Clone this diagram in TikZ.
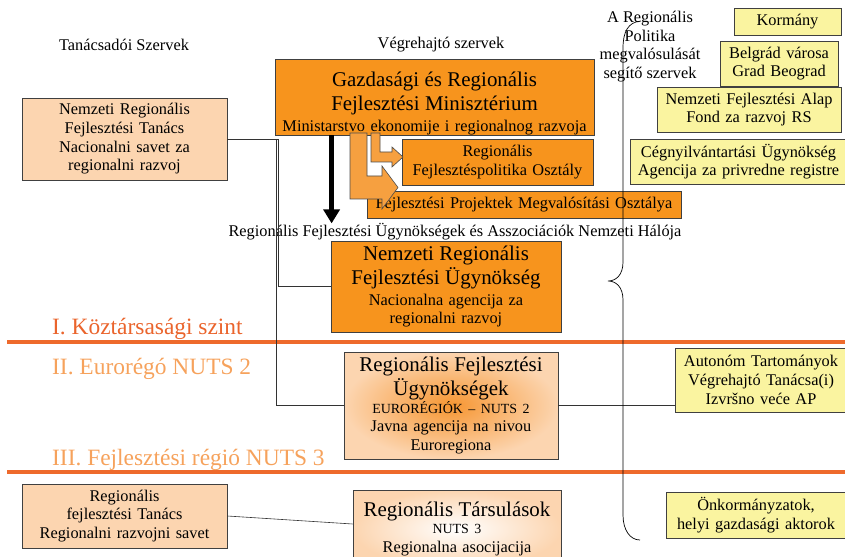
\documentclass[tikz,border=0pt]{standalone}
\usepackage{fontspec}
\setmainfont{Liberation Serif}
\usepackage{xcolor}
\usetikzlibrary{arrows.meta,calc,positioning}
\definecolor{ministryorange}{RGB}{247,148,29}
\definecolor{arroworange}{RGB}{246,160,64}
\definecolor{agencyorange}{RGB}{246,150,50}
\definecolor{peach}{RGB}{252,213,176}
\definecolor{paleyellow}{RGB}{250,244,160}
\definecolor{levelred}{RGB}{234,100,44}
\definecolor{levellight}{RGB}{246,162,92}
\definecolor{lineorange}{RGB}{238,106,44}
\newcommand{\leveltxt}{\fontsize{23.5}{26}\selectfont}
\newcommand{\bigtxt}{\fontsize{21}{24.5}\selectfont}
\newcommand{\smalltxt}{\fontsize{16.4}{18.7}\selectfont}
\newcommand{\tinytxt}{\fontsize{14}{16.5}\selectfont}

\begin{document}
\begin{tikzpicture}[x=1bp, y=-1bp,
		box/.style={draw=black!75, line width=0.8pt, align=center, inner sep=0pt, font=\smalltxt},
		orangebox/.style={box, fill=ministryorange},
		peachbox/.style={box, fill=peach},
		yellowbox/.style={box, fill=paleyellow},
		head/.style={font=\smalltxt, align=center, inner sep=0pt},
		level/.style={font=\leveltxt, anchor=base west, inner sep=0pt},
		link/.style={draw=black!80, line width=0.6pt},
		blockarrow/.style={fill=arroworange, draw=black!70, line width=0.6pt},
		levelline/.style={draw=lineorange, line width=4.5pt}]
		\useasboundingbox (0,0) rectangle (845,557);
		\draw [levelline] (7,342) -- (845,342);
		\draw [levelline] (7,472) -- (845,472);
		\node [head] (advisorhead) at (124,45) {Tanácsadói Szervek};
		\node [head] (executivehead) at (441,45) {Végrehajtó szervek};
		\node [head] (helperhead) at (650,46.5) {A Regionális\\Politika\\megvalósulását\\segítő szervek};
		\node [head] (networkhead) at (455,232) {Regionális Fejlesztési Ügynökségek és Asszociációk Nemzeti Hálója};
		\node [level, text=levelred] (levelone) at (52,335) {I. Köztársasági szint};
		\node [level, text=levellight] (leveltwo) at (52,374) {II. Eurorégó NUTS 2};
		\node [level, text=levellight] (levelthree) at (52,465) {III. Fejlesztési régió NUTS 3};
		\node [peachbox, text width=205bp, minimum height=82bp] (natcouncil) at (124.5,139) {Nemzeti Regionális\\Fejlesztési Tanács\\Nacionalni savet za\\regionalni razvoj};
		\node [orangebox, text width=319bp, minimum height=72bp] (ministry) at (434.5,97) {\vskip3bp\bigtxt Gazdasági és Regionális\\Fejlesztési Minisztérium\par\vskip2bp\smalltxt Ministarstvo ekonomije i regionalnog razvoja};
		\node [orangebox, text width=191bp, minimum height=46bp] (policydept) at (497.5,162) {Regionális\\Fejlesztéspolitika Osztály};
		\node [orangebox, text width=314bp, minimum height=27bp] (projectdept) at (524,204.5) {Fejlesztési Projektek Megvalósítási Osztálya};
		\node [orangebox, text width=230bp, minimum height=91bp] (natagency) at (446,286.5) {\bigtxt Nemzeti Regionális\\Fejlesztési Ügynökség\par\vskip2bp\smalltxt Nacionalna agencija za\\regionalni razvoj};
		\node [box, inner color=agencyorange, outer color=peach, text width=214bp, minimum height=107bp] (regagency) at (451,405.5) {\bigtxt Regionális Fejlesztési\\Ügynökségek\par\tinytxt EURORÉGIÓK – NUTS 2\par\smalltxt Javna agencija na nivou\\Euroregiona};
		\node [peachbox, text width=205bp, minimum height=64bp] (regcouncil) at (124.5,516) {Regionális\\fejlesztési Tanács\\Regionalni razvojni savet};
		\node [box, inner color=white, outer color=peach, text width=208bp, minimum height=78bp] (association) at (457,529) {\bigtxt Regionális Társulások\par\tinytxt NUTS 3\par\smalltxt Regionalna asocijacija};
		\node [yellowbox, text width=107bp, minimum height=27bp] (government) at (787.5,21.5) {Kormány};
		\node [yellowbox, text width=118bp, minimum height=45bp] (belgrade) at (779,63.5) {Belgrád városa\\Grad Beograd};
		\node [yellowbox, text width=184bp, minimum height=45bp] (devfund) at (749,109.5) {Nemzeti Fejlesztési Alap\\Fond za razvoj RS};
		\node [yellowbox, text width=217bp, minimum height=45bp] (registry) at (738.5,161.5) {Cégnyilvántartási Ügynökség\\Agencija za privredne registre};
		\node [yellowbox, text width=172bp, minimum height=64bp] (autonomy) at (761,380) {Autonóm Tartományok\\Végrehajtó Tanácsa(i)\\Izvršno veće AP};
		\node [yellowbox, text width=180bp, minimum height=46bp] (localgov) at (756,515) {Önkormányzatok,\\helyi gazdasági aktorok};
		\draw [blockarrow] (350,133) -- (367,133) -- (367,176) -- (382,176) -- (382,166) -- (398,187.5) -- (382,209) -- (382,199) -- (350,199) -- cycle;
		\draw [blockarrow] (371,133) -- (380,133) -- (380,152) -- (392,152) -- (392,147) -- (403,157) -- (392,167) -- (392,162) -- (371,162) -- cycle;
		\coordinate (blacktail) at ($(ministry.south west)+(57,0)$);
		\draw [line width=5bp, -{Triangle[width=16bp,length=14bp]}] (blacktail) -- (blacktail |- networkhead.north);
		\draw [link] (natcouncil.east) -- ++(51,0) |- (natagency.west);
		\draw [link] (natcouncil.east) -- ++(49,0) |- (regagency.west);
		\draw [link] (regagency.east) -- (regagency.east -| autonomy.west);
		\draw [link] (regcouncil.east) -- ([yshift=5bp]association.west);
		\draw [line width=0.7pt] (641,21) .. controls (628,22) and (623,32) .. (623,48) -- (623,262) .. controls (623,275) and (616,281) .. (608,281) .. controls (616,281) and (623,287) .. (623,300) -- (623,515) .. controls (623,530) and (630,540) .. (640,540);
	\end{tikzpicture}
\end{document}
